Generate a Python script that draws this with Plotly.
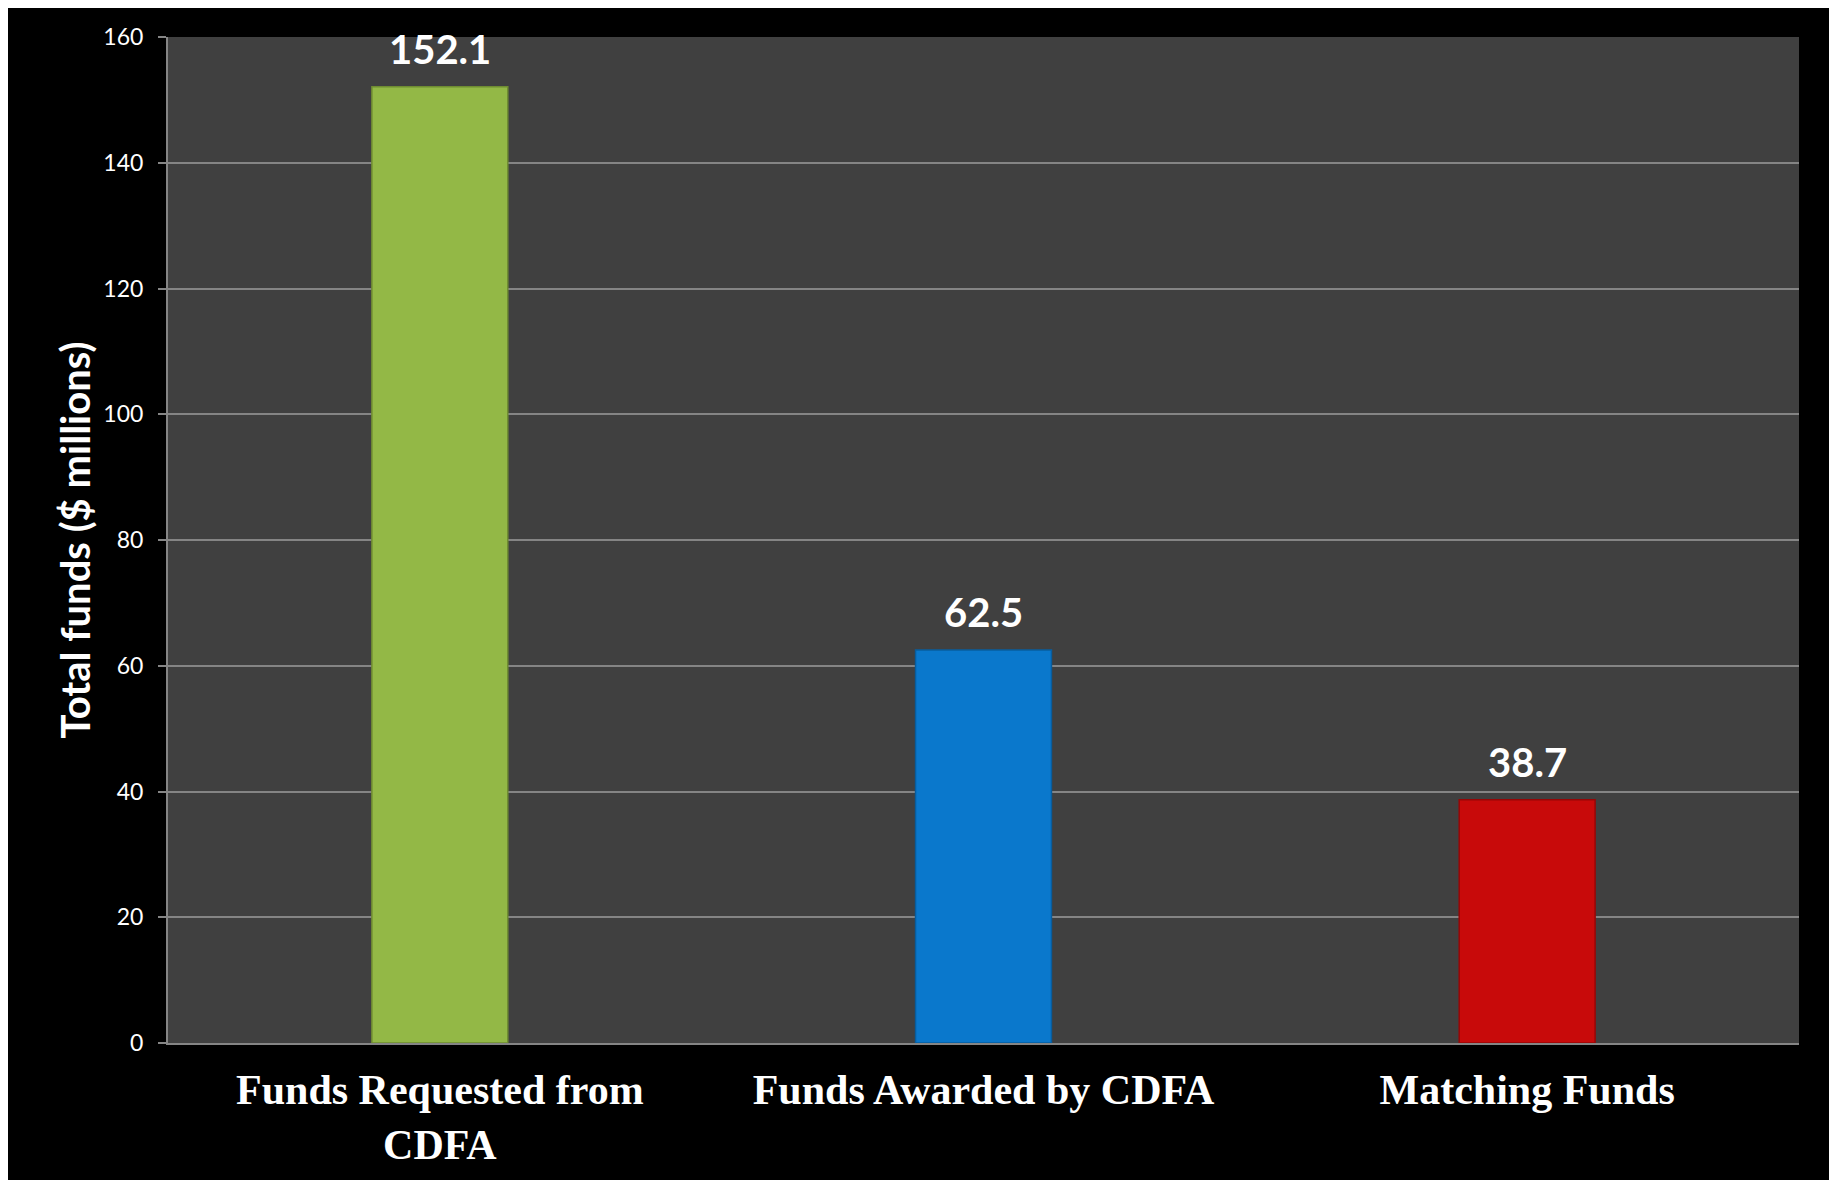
import plotly.graph_objects as go

categories = ["Funds Requested from<br>CDFA", "Funds Awarded by CDFA", "Matching Funds"]
values = [152.1, 62.5, 38.7]
value_labels = ["152.1", "62.5", "38.7"]
bar_colors = ["#93b846", "#0a78cc", "#c80a0a"]
edge_colors = ["#6f8c32", "#075d9e", "#960707"]
y_ticks = [0, 20, 40, 60, 80, 100, 120, 140, 160]

W, H = 1821, 1172
L, R, T, B = 160, 30, 29, 137

fig = go.Figure()
fig.add_trace(go.Bar(
    x=categories, y=values,
    width=0.25,
    marker=dict(color=bar_colors, line=dict(color=edge_colors, width=1.5)),
    hoverinfo="x+y",
))

for c, v, t in zip(categories, values, value_labels):
    fig.add_annotation(
        x=c, y=v, text=t, showarrow=False, yanchor="bottom", yshift=12,
        font=dict(family="Lato, Open Sans, sans-serif", size=40, color="white", weight="bold"),
    )

grey = "#858585"
fig.update_layout(
    width=W, height=H, autosize=False,
    margin=dict(l=L, r=R, t=T, b=B, pad=0),
    paper_bgcolor="black",
    plot_bgcolor="#404040",
    showlegend=False,
    xaxis=dict(
        automargin=False,
        showgrid=False, showline=True, linecolor=grey, linewidth=2,
        ticks="", ticklabelstandoff=9,
        tickfont=dict(family="Liberation Serif, Times New Roman, serif", size=42,
                      color="white", weight="bold"),
    ),
    yaxis=dict(
        automargin=False,
        range=[0, 160], tickvals=y_ticks,
        showgrid=True, gridcolor=grey, gridwidth=2,
        showline=True, linecolor=grey, linewidth=2,
        zeroline=False,
        ticks="outside", ticklen=8, tickcolor=grey, tickwidth=2,
        ticklabelstandoff=10,
        tickfont=dict(family="Lato, Open Sans, sans-serif", size=23, color="white"),
        title=dict(text="Total funds ($ millions)", standoff=0,
                   font=dict(family="Lato, Open Sans, sans-serif", size=40,
                             color="white", weight="bold")),
    ),
)

fig.write_html("out.html")
